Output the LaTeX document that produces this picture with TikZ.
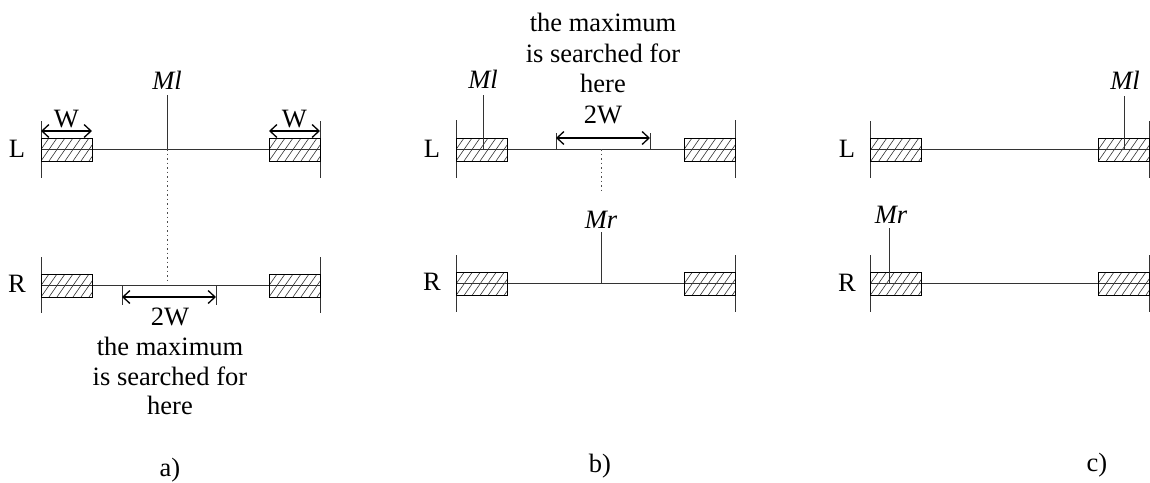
\documentclass[tikz,border=0pt]{standalone}
\usepackage{fontspec}
\setmainfont{Liberation Serif}
\usetikzlibrary{arrows.meta}
\begin{document}
\begin{tikzpicture}[x=1pt,y=-1pt,
  ln/.style={line width=1pt, draw=black!80},
  dimarrow/.style={line width=1.3pt, draw=black,
    {Straight Barb[length=7pt,width=13pt]}-{Straight Barb[length=7pt,width=13pt]}},
  dotline/.style={line width=1pt, draw=black!70, dash pattern=on 1.5pt off 3pt},
  lbl/.style={font=\fontsize{26.5}{30}\selectfont, anchor=base, inner sep=0pt},
  hbox/.style={draw=black, line width=0.9pt, rectangle, inner sep=0pt,
    minimum width=51pt, minimum height=23pt,
    path picture={
      \foreach \i in {-24,-16,...,56}
        \draw[line width=0.6pt, draw=black!80]
          ([xshift=\i pt]path picture bounding box.south west) -- ++(16pt,23pt);
    }},
]
\useasboundingbox (0,0) rectangle (1150,482);

% ================= panel a =================
% L row
\coordinate (aL0) at (41,149);
\coordinate (aL1) at (320,149);
\draw[ln] (41,121) -- (41,178);
\draw[ln] (320,121) -- (320,178);
\draw[ln] (aL0) -- (aL1);
\node[hbox] (aLb1) at (66.5,149.5) {};
\node[hbox] (aLb2) at (294.5,149.5) {};
\node[lbl] (aLlab) at (17,157) {L};
\coordinate (aMl) at (167,149);
\node[lbl] (aMltxt) at (167,89) {\textit{Ml}};
\draw[ln] (167,95) -- (aMl);
\coordinate (aW1a) at (41,131); \coordinate (aW1b) at (92,131);
\coordinate (aW2a) at (269,131); \coordinate (aW2b) at (320,131);
\draw[dimarrow] (aW1a) -- (aW1b);
\draw[dimarrow] (aW2a) -- (aW2b);
\node[lbl] (aW1) at (66.5,127) {W};
\node[lbl] (aW2) at (294.5,127) {W};
% dotted link
\coordinate (aDot) at (167,284);
\draw[dotline] (aMl) -- (aDot);
% R row
\coordinate (aR0) at (41,285);
\coordinate (aR1) at (320,285);
\draw[ln] (41,257) -- (41,313);
\draw[ln] (320,257) -- (320,313);
\draw[ln] (aR0) -- (aR1);
\node[hbox] (aRb1) at (66.5,285.5) {};
\node[hbox] (aRb2) at (294.5,285.5) {};
\node[lbl] (aRlab) at (17,292) {R};
\coordinate (aT1) at (122,297); \coordinate (aT2) at (216,297);
\draw[ln] (122,285) -- (122,305);
\draw[ln] (216,285) -- (216,305);
\draw[dimarrow] (aT1) -- (aT2);
\node[lbl] (a2W) at (170,325) {2W};
\node[lbl] (at1) at (170,355) {the maximum};
\node[lbl] (at2) at (170,385) {is searched for};
\node[lbl] (at3) at (170,414) {here};
\node[lbl] (acap) at (170,476) {a)};

% ================= panel b =================
\coordinate (bL0) at (456,149);
\coordinate (bL1) at (735,149);
\draw[ln] (456,120) -- (456,178);
\draw[ln] (735,120) -- (735,178);
\draw[ln] (bL0) -- (bL1);
\node[hbox] (bLb1) at (481.5,149.5) {};
\node[hbox] (bLb2) at (709.5,149.5) {};
\node[lbl] (bLlab) at (432,157) {L};
\node[lbl] (bMltxt) at (483,88) {\textit{Ml}};
\draw[ln] (483,95) -- (483,149);
\coordinate (bT1) at (556,138); \coordinate (bT2) at (650,138);
\draw[ln] (556,133) -- (556,149);
\draw[ln] (650,133) -- (650,149);
\draw[dimarrow] (bT1) -- (bT2);
\node[lbl] (bt1) at (603,31) {the maximum};
\node[lbl] (bt2) at (603,62) {is searched for};
\node[lbl] (bt3) at (603,92) {here};
\node[lbl] (b2W) at (603,123) {2W};
\coordinate (bDotA) at (601,149);
\coordinate (bDotB) at (601,192);
\draw[dotline] (bDotA) -- (bDotB);
\coordinate (bR0) at (456,283);
\coordinate (bR1) at (735,283);
\draw[ln] (456,255) -- (456,312);
\draw[ln] (735,255) -- (735,312);
\draw[ln] (bR0) -- (bR1);
\node[hbox] (bRb1) at (481.5,284) {};
\node[hbox] (bRb2) at (709.5,284) {};
\node[lbl] (bRlab) at (432,290) {R};
\node[lbl] (bMrtxt) at (601,228) {\textit{Mr}};
\draw[ln] (601,232) -- (601,283);
\node[lbl] (bcap) at (600,472) {b)};

% ================= panel c =================
\coordinate (cL0) at (870,149);
\coordinate (cL1) at (1149,149);
\draw[ln] (870,121) -- (870,178);
\draw[ln] (1149,121) -- (1149,178);
\draw[ln] (cL0) -- (cL1);
\node[hbox] (cLb1) at (896,150) {};
\node[hbox] (cLb2) at (1123.5,150) {};
\node[lbl] (cLlab) at (847,157) {L};
\node[lbl] (cMltxt) at (1125,89) {\textit{Ml}};
\draw[ln] (1124,96) -- (1124,149);
\coordinate (cR0) at (870,283);
\coordinate (cR1) at (1149,283);
\draw[ln] (870,255) -- (870,312);
\draw[ln] (1149,255) -- (1149,312);
\draw[ln] (cR0) -- (cR1);
\node[hbox] (cRb1) at (896,283.5) {};
\node[hbox] (cRb2) at (1123.5,283.5) {};
\node[lbl] (cRlab) at (847,291) {R};
\node[lbl] (cMrtxt) at (891,223) {\textit{Mr}};
\draw[ln] (889,228) -- (889,283);
\node[lbl] (ccap) at (1097,471) {c)};
\end{tikzpicture}
\end{document}
